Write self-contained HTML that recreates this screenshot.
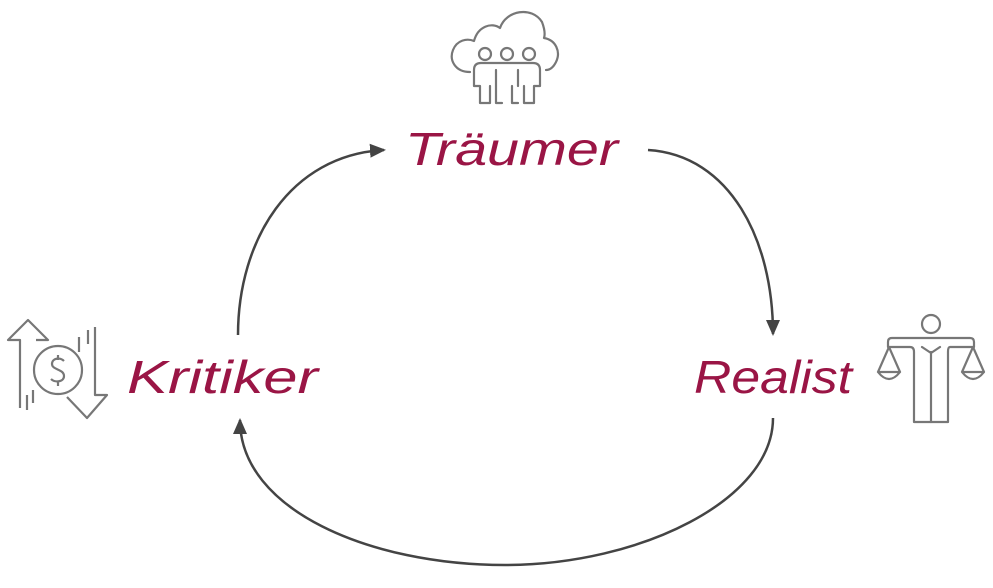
<!DOCTYPE html>
<html><head><meta charset="utf-8"><style>
html,body{margin:0;padding:0;background:#fff;}
svg{display:block;}
text{font-family:"Liberation Sans",sans-serif;font-style:italic;fill:#9a1545;font-size:46px;}
</style></head><body>
<svg width="993" height="588" viewBox="0 0 993 588" xmlns="http://www.w3.org/2000/svg">
<defs>
<marker id="b" markerWidth="16" markerHeight="16" refX="14" refY="8" orient="auto" markerUnits="userSpaceOnUse" viewBox="0 0 16 16"><path d="M0,1 L16,8 L0,15 z" fill="#444"/></marker></defs>
<g fill="none" stroke="#444" stroke-width="2.5">
<path d="M238,335 C238,240 290,155 384,150" marker-end="url(#b)"/>
<path d="M648,150 C730,155 773,240 773,334" marker-end="url(#b)"/>
<path d="M773,418 C773,500 640,565 505,565 C370,565 240,510 240,420" marker-end="url(#b)"/>
</g>
<text x="405" y="165" textLength="213" lengthAdjust="spacingAndGlyphs">Träumer</text>
<text x="127" y="393" textLength="191" lengthAdjust="spacingAndGlyphs">Kritiker</text>
<text x="694" y="393" textLength="158" lengthAdjust="spacingAndGlyphs">Realist</text>
<!-- cloud people -->
<g fill="none" stroke="#777" stroke-width="2.2" stroke-linejoin="round" stroke-linecap="round">
<path d="M470,72 C455,72 449,60 453,50 C457,40 467,38 474,41 C478,26 492,22 500,28 C506,10 532,6 542,22 C545,30 545,35 544,38 C556,40 561,52 556,62 C553,68 549,70 546,70"/>
<circle cx="485" cy="54" r="6"/><circle cx="507" cy="54" r="6"/><circle cx="529" cy="54" r="6"/>
<path d="M474,86 V70 Q474,63 481,63 H533 Q540,63 540,70 V86 M474,86 H480 V103 H490 V86 M496,86 V103 H502 M496,70 V86 M518,70 V86 M512,86 V103 H518 M524,86 V103 H534 V86 H540"/>
</g>
<!-- dollar arrows -->
<g fill="none" stroke="#777" stroke-width="2.2" stroke-linejoin="round">
<path d="M20,408 V340 H8 L28,320 L48,340 H36"/>
<path d="M33,390 V403 M27,395 V410"/>
<path d="M79,337 V352 M88,330 V344"/>
<path d="M95,327 V395 H107 L87,418 L67,397"/>
<circle cx="58" cy="370" r="24"/>
<path d="M64,361 C60,357 52,358 52,364 C52,370 64,369 64,376 C64,382 55,383 51,379 M58,355 V360 M58,381 V386"/>
</g>
<!-- scales person -->
<g fill="none" stroke="#777" stroke-width="2.2" stroke-linejoin="round" stroke-linecap="round">
<circle cx="931" cy="324" r="9"/>
<path d="M888,347 V342 Q888,338 892,338 H970 Q974,338 974,342 V347 H950 Q948,347 948,352 V422 H914 V352 Q914,347 910,347 Z"/>
<path d="M931,352 V422 M922,347 L931,353 L940,347"/>
<path d="M889,347 L878,372 H900 Z M878,372 Q889,386 900,372"/>
<path d="M973,347 L962,372 H984 Z M962,372 Q973,386 984,372"/>
</g>
</svg>
</body></html>
